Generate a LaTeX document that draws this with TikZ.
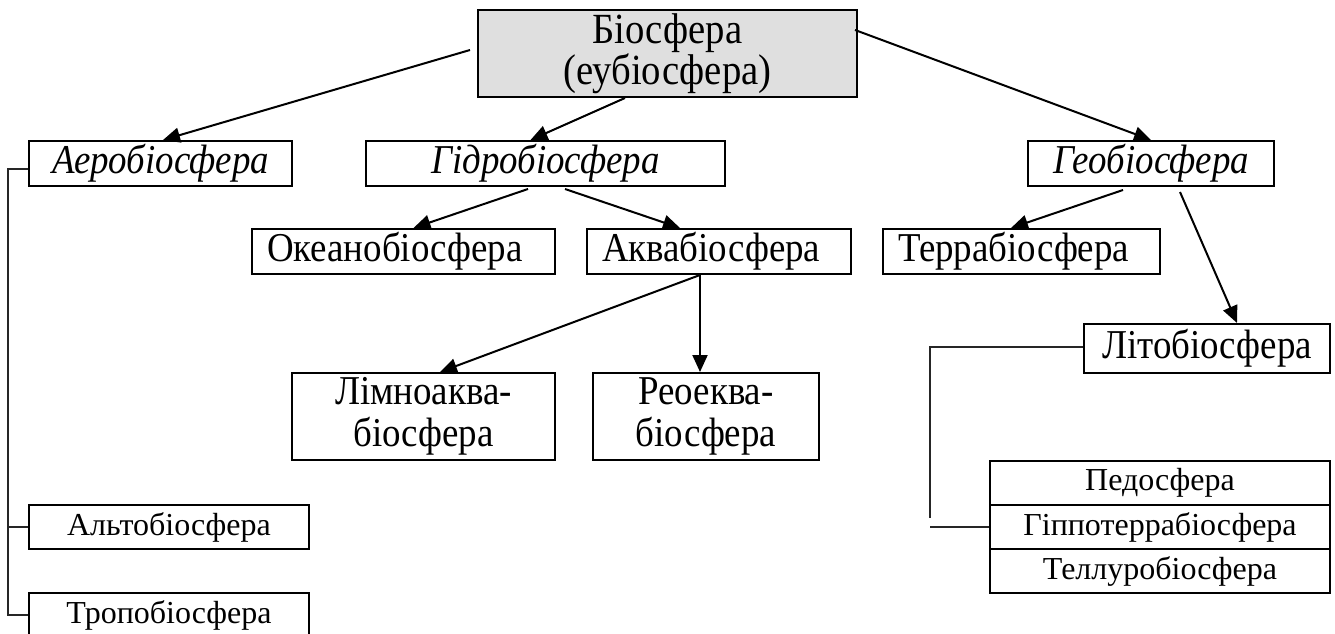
\documentclass[tikz,border=0pt]{standalone}
\usepackage{fontspec}
\setmainfont{Liberation Serif}
\newfontfamily\tallfont{Liberation Serif}[FakeStretch=0.9]
\usetikzlibrary{arrows.meta}
\usetikzlibrary{calc}

\begin{document}
\begin{tikzpicture}[
		x=1pt, y=1pt,
		box/.style = {rectangle, draw, line width=2pt,% boxes of the scheme
			inner sep=0pt, minimum height=45pt, align=center,
			font=\tallfont\fontsize{41}{42}\selectfont},
		lbox/.style = {box, align=left, inner xsep=15pt},% text set to the left
		sbox/.style = {box, minimum height=44pt,
			font=\rmfamily\fontsize{32}{34}\selectfont},
		arr/.style = {-{Triangle[length=17pt, width=15pt]}, line width=2pt},
		link/.style = {line width=1.3pt, black!85},
		]
		\useasboundingbox (0,0) rectangle (1335,-634);
		\node[box, fill=gray!25, text width=379pt, minimum height=87pt,
			font=\tallfont\fontsize{43}{41}\selectfont] (bio) at (667.5,-53.5) {Біосфера\\(еубіосфера)};
		\node[box, text width=263pt] (aero) at (160.5,-163.5) {\itshape Аеробіосфера};
		\node[box, text width=359pt] (hydro) at (545.5,-163.5) {\itshape Гідробіосфера};
		\node[box, text width=246pt] (geo) at (1151,-163.5) {\itshape Геобіосфера};
		\node[lbox, text width=273pt] (ocean) at (403.5,-251.5) {Океанобіосфера};
		\node[lbox, text width=234pt] (aqua) at (719,-251.5) {Аквабіосфера};
		\node[lbox, text width=247pt] (terra) at (1021.5,-251.5) {Террабіосфера};
		\node[box, text width=246pt, minimum height=49pt] (lito) at (1207,-348.5) {Літобіосфера};
		\node[box, text width=263pt, minimum height=87pt] (limno) at (423.5,-416.5) {Лімноаква-\\біосфера};
		\node[box, text width=226pt, minimum height=87pt] (reo) at (706,-416.5) {Реоеква-\\біосфера};
		\node[sbox, text width=280pt] (alto) at (169,-527) {Альтобіосфера};
		\node[sbox, text width=280pt] (tropo) at (169,-615) {Тропобіосфера};
		\foreach \n/\t [count=\i from 0] in {ped/Педосфера,hyp/Гіппотеррабіосфера,tel/Теллуробіосфера}
		\node[sbox, text width=340pt] (\n) at (1160,-483-44*\i) {\t};
		% arrows
		\draw[arr] ([shift={(-7,3.5)}]bio.west) -- ([xshift=2.5]aero.north);
		\draw[arr] ([xshift=-42.5]bio.south) -- ([xshift=-15]hydro.north);
		\draw[arr] ([shift={(-3,-21)}]bio.north east) -- (geo.north);
		\draw[arr] ([shift={(-17.5,-2)}]hydro.south) -- ([xshift=10]ocean.north);
		\draw[arr] ([shift={(19.5,-2)}]hydro.south) -- ([xshift=-39]aqua.north);
		\draw[arr] ([shift={(-28,-3)}]geo.south) -- ([xshift=-10.5]terra.north);
		\draw[arr] ([shift={(29,-5)}]geo.south) -- ([xshift=30]lito.north);
		\coordinate (aq) at ([xshift=-19]aqua.south);
		\draw[arr] (aq) -- ([xshift=16.5]limno.north);
		\draw[arr] (aq) -- (aq |- reo.north);
		% brackets
		\draw[link] ([yshift=-5.5]aero.west) -- ++(-20,0) |- (tropo.west);
		\draw[link] (alto.west) -- ++(-20,0);
		\draw[link] ([yshift=1.5]lito.west) -- ++(-153,0) -- ++(0,-171);
		\draw[link] (hyp.west) -- ++(-59,0);
	\end{tikzpicture}
\end{document}
